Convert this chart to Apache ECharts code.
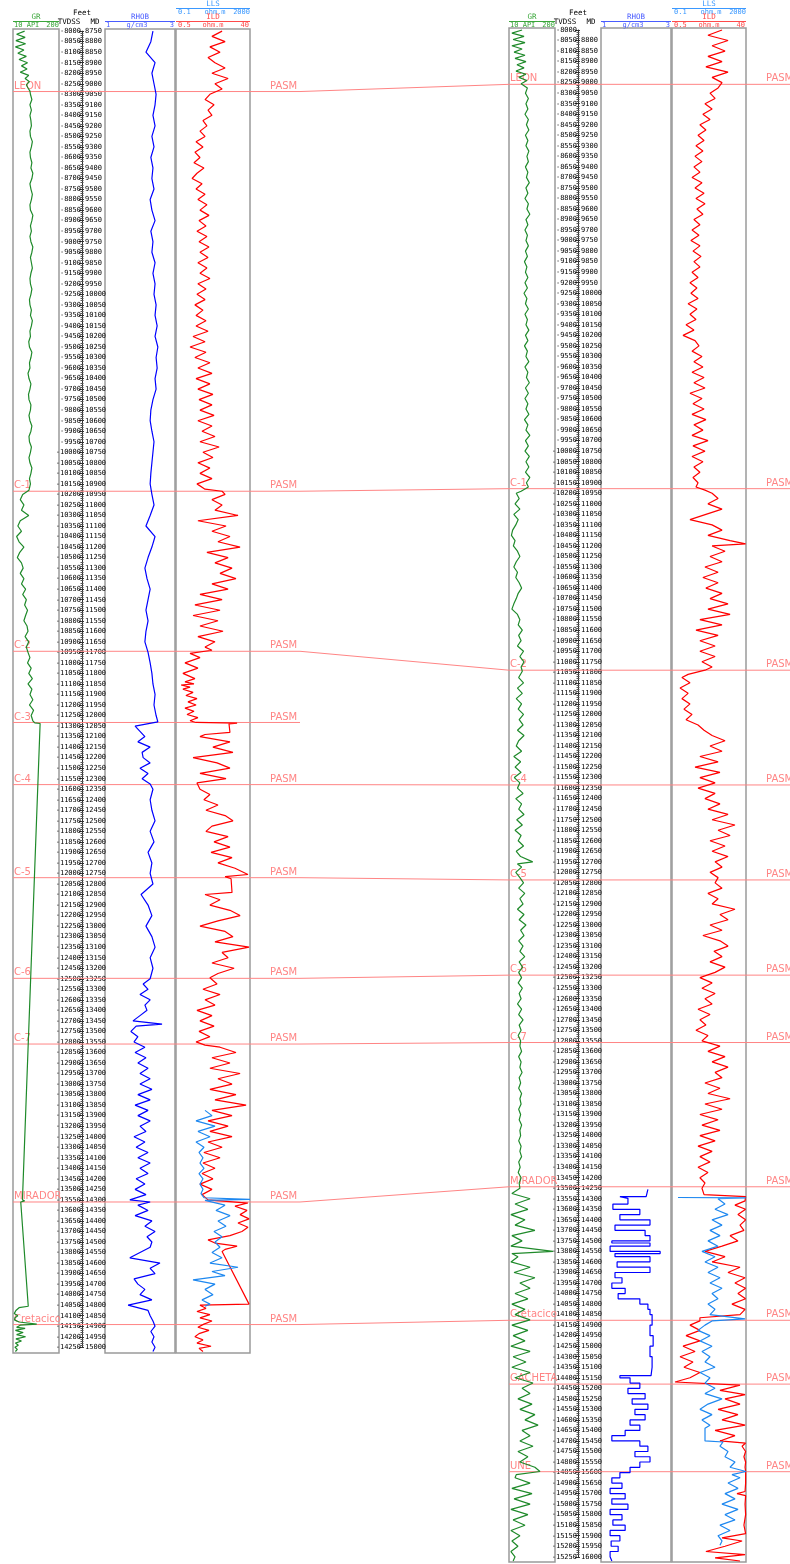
<!DOCTYPE html>
<html><head><meta charset="utf-8">
<script src="https://cdn.jsdelivr.net/npm/echarts@6.0.0/dist/echarts.min.js"></script>
<style>html,body{margin:0;padding:0;background:#fff}#c{width:790px;height:1564px}</style>
</head><body><div id="c"></div>
<script>
// ---------------- DATA (depth TVDSS ft, value) ----------------
const gr1 = [[8000,58],[8015,25],[8030,60],[8045,22],[8060,62],[8075,20],[8090,55],[8105,30],[8120,65],[8135,35],[8150,70],[8165,45],[8180,68],[8195,40],[8210,75],[8225,60],[8240,78],[8255,65],[8270,72],[8285,80],
[8300,82],[8325,88],[8350,80],[8375,86],[8400,80],[8425,84],[8450,86],[8475,80],[8500,82],[8525,90],[8550,86],[8575,80],[8600,82],[8625,88],[8650,84],[8675,92],[8700,88],[8725,80],[8750,84],[8775,90],[8800,86],[8825,80],[8850,82],[8875,92],[8900,88],[8925,82],[8950,86],[8975,80],[9000,84],[9025,92],[9050,88],[9075,82],[9100,86],[9125,90],[9150,84],[9175,80],[9200,82],[9225,88],[9250,84],[9275,78],[9300,80],[9325,86],[9350,82],[9375,90],[9400,86],[9425,80],[9450,82],[9475,75],[9500,78],[9525,88],[9550,84],[9575,78],[9600,80],[9625,72],[9650,76],[9675,84],[9700,80],[9725,74],[9750,76],[9775,84],[9800,82],[9825,76],[9850,80],[9875,88],[9900,84],[9925,76],[9950,78],[9975,86],[10000,82],[10025,76],[10050,80],[10075,88],[10100,84],[10125,78],[10150,82],[10180,76],
[10200,50],[10225,40],[10250,55],[10275,45],[10300,75],[10325,40],[10350,30],[10375,45],[10400,25],[10425,35],[10450,55],[10475,38],[10500,28],[10525,45],[10550,52],[10575,40],[10600,55],[10625,45],[10650,62],[10675,50],[10700,65],[10725,58],[10750,70],[10775,62],[10800,55],[10825,68],[10850,72],[10875,60],[10900,75],[10925,65],[10950,72],[10975,80],[11000,70],[11025,85],[11050,75],[11075,90],[11100,72],[11125,88],[11150,80],[11175,92],[11200,78],[11225,95],[11250,85],[11275,92],[11285,100],[11288,122],[13550,49],[13555,58],[13560,42],[13565,50],[14055,73],[14062,35],[14075,22],[14090,15],[14100,30],[14110,18],[14120,16],[14130,35],[14140,108],[14145,40],[14155,25],[14160,60],[14170,20],[14180,52],[14190,25],[14200,62],[14210,22],[14220,45],[14230,20],[14240,32],[14250,18],[14260,28],[14270,20]];

const rhob1 = [[8000,2.37],[8050,2.31],[8100,2.17],[8150,2.43],[8200,2.34],[8250,2.40],[8300,2.46],[8350,2.43],[8400,2.37],[8450,2.43],[8500,2.34],[8550,2.40],[8600,2.31],[8650,2.37],[8700,2.34],[8750,2.40],[8800,2.29],[8850,2.34],[8900,2.43],[8950,2.31],[9000,2.37],[9050,2.34],[9100,2.43],[9150,2.37],[9200,2.43],[9250,2.40],[9300,2.46],[9350,2.43],[9400,2.49],[9450,2.43],[9500,2.51],[9550,2.46],[9600,2.49],[9650,2.43],[9700,2.46],[9750,2.37],[9800,2.31],[9850,2.29],[9900,2.34],[9950,2.40],[10000,2.37],[10050,2.34],[10100,2.31],[10150,2.29],[10200,2.34],[10250,2.40],[10300,2.29],[10350,2.17],[10400,2.43],[10450,2.34],[10500,2.23],[10550,2.14],[10600,2.20],[10650,2.29],[10700,2.23],[10750,2.17],[10800,2.23],[10850,2.17],[10900,2.14],[10950,2.23],[11000,2.29],[11050,2.34],[11100,2.37],[11150,2.43],[11200,2.40],[11250,2.46],[11280,2.51],[11300,1.86],[11325,2.00],[11350,2.14],[11375,1.94],[11400,2.29],[11425,2.06],[11450,2.09],[11475,2.29],[11500,2.00],[11525,2.23],[11550,2.06],[11575,2.29],[11600,2.37],[11650,2.29],[11700,2.34],[11750,2.43],[11800,2.29],[11850,2.40],[11900,2.23],[11950,2.34],[12000,2.29],[12050,2.37],[12100,2.03],[12150,2.23],[12200,2.34],[12250,2.17],[12300,2.34],[12350,2.43],[12400,2.29],[12450,2.37],[12500,2.29],[12525,2.09],[12550,2.23],[12575,2.00],[12600,2.29],[12625,2.14],[12650,2.20],[12675,2.00],[12700,1.80],[12715,2.63],[12725,1.89],[12750,1.74],[12775,1.94],[12800,1.83],[12825,2.14],[12850,1.86],[12875,2.17],[12900,1.94],[12925,2.23],[12950,2.00],[12975,2.29],[13000,2.00],[13025,2.34],[13050,1.94],[13075,2.29],[13100,1.86],[13125,2.23],[13150,1.94],[13175,2.29],[13200,2.00],[13225,2.17],[13250,1.83],[13275,2.14],[13300,1.89],[13325,2.23],[13350,1.94],[13375,2.29],[13400,2.00],[13425,2.23],[13450,1.89],[13475,2.14],[13500,1.86],[13525,2.17],[13550,1.71],[13560,2.29],[13575,1.94],[13600,2.23],[13625,1.86],[13650,2.34],[13675,2.14],[13700,2.43],[13725,2.20],[13750,2.34],[13775,2.29],[13800,2.00],[13825,1.71],[13850,2.57],[13875,2.29],[13900,2.43],[13925,1.83],[13950,1.94],[13975,2.14],[14000,2.00],[14025,2.34],[14050,1.66],[14075,2.23],[14100,2.29],[14125,2.37],[14150,2.43],[14175,2.31],[14200,2.40],[14225,2.34],[14250,2.43],[14270,2.37]];

const ild1 = [[8000,25.1],[8025,19.7],[8050,26.7],[8075,18.6],[8100,24.0],[8125,17.6],[8150,21.3],[8175,26.7],[8200,19.7],[8225,28.3],[8250,21.3],[8275,25.1],[8300,18.6],[8325,16.0],[8350,20.8],[8375,17.6],[8400,19.7],[8425,14.9],[8450,17.0],[8475,13.3],
[8500,16.0],[8525,11.2],[8550,14.9],[8575,10.6],[8600,13.3],[8625,10.1],[8650,15.4],[8675,11.7],[8700,9.1],[8725,14.4],[8750,11.2],[8775,16.0],[8800,12.2],[8825,17.0],[8850,13.3],[8875,18.1],[8900,12.8],[8925,16.5],[8950,11.7],[8975,17.0],[9000,12.8],[9025,18.1],[9050,13.3],[9075,17.6],[9100,12.2],[9125,17.0],[9150,13.3],[9175,18.6],[9200,12.2],[9225,16.5],[9250,11.7],[9275,16.0],[9300,10.6],[9325,14.9],[9350,11.2],[9375,16.5],
[9400,11.2],[9425,17.6],[9450,9.6],[9475,16.0],[9500,8.0],[9525,16.5],[9550,10.6],[9575,18.6],[9600,12.2],[9625,19.7],[9650,11.2],[9675,18.6],[9700,12.2],[9725,20.2],[9750,12.8],[9775,19.7],[9800,13.3],[9825,20.8],[9850,12.2],[9875,19.7],[9900,14.4],[9925,21.3],[9950,13.3],[9975,23.5],[10000,14.9],[10025,20.2],[10050,12.2],[10075,18.6],[10100,13.3],[10125,19.7],[10150,11.7],[10175,16.0],[10185,25.1],
[10200,26.7],[10225,19.7],[10250,25.1],[10275,21.3],[10300,33.6],[10325,12.2],[10350,27.2],[10375,19.7],[10400,29.3],[10425,22.9],[10450,34.7],[10475,17.0],[10500,28.3],[10525,21.3],[10550,30.4],[10575,24.0],[10600,32.5],[10625,19.7],[10650,28.3],[10675,13.3],[10700,25.1],[10725,10.6],[10750,24.0],[10775,9.6],[10800,22.9],[10825,13.3],[10850,25.6],[10875,12.2],[10900,21.3],[10925,16.0],[10940,19.7],
[10955,8.0],[10975,13.3],[11000,5.3],[11025,12.2],[11050,4.2],[11075,10.6],[11090,5.3],[11100,10.1],[11105,3.2],[11115,8.0],[11125,4.2],[11140,9.6],[11155,5.8],[11170,11.7],[11185,6.9],[11200,11.2],[11215,5.3],[11230,10.1],[11245,6.4],[11260,12.2],[11275,8.0],[11283,11.2],[11286,33.1],[11290,28.8],[11330,29.3],[11340,16.0],
[11350,13.3],[11375,29.3],[11400,20.2],[11425,30.9],[11450,9.6],[11475,22.4],[11500,29.3],[11525,13.3],[11550,27.2],[11570,11.7],
[11600,13.3],[11625,18.6],[11650,15.4],[11675,22.9],[11700,16.5],[11725,26.7],[11750,30.9],[11775,19.7],[11800,16.5],[11825,28.3],[11850,20.8],[11875,29.3],[11900,19.2],[11925,30.4],[11950,22.9],[11975,32.0],[12005,38.9],[12015,26.7],
[12025,29.9],[12090,30.4],[12100,16.0],[12125,24.0],[12150,18.6],[12175,29.3],[12200,34.7],[12225,22.9],[12250,13.3],[12275,26.7],[12300,30.9],[12325,21.3],[12350,39.5],[12375,25.1],[12400,28.3],[12425,19.7],[12450,31.5],[12475,22.9],[12495,18.6],
[12525,22.4],[12550,14.9],[12575,24.0],[12600,16.0],[12625,21.3],[12650,11.7],[12675,19.7],[12700,13.3],[12725,20.8],[12750,12.8],[12775,18.6],[12800,11.2],[12815,16.0],
[12825,24.0],[12850,32.5],[12875,19.7],[12900,29.3],[12925,18.6],[12950,34.7],[12975,22.9],[13000,30.4],[13025,18.6],[13050,32.5],[13075,21.3],[13100,37.9],[13125,19.7],[13150,30.4],[13175,17.6],[13200,28.3],[13225,18.6],[13250,30.4],[13275,17.6],[13300,25.1],[13325,15.4],[13350,24.0],[13375,14.9],[13400,21.3],[13425,14.4],[13450,20.2],[13475,13.3],[13500,19.7],[13525,14.4],[13550,17.6],
[13565,38.9],[13580,32.0],[13600,38.4],[13620,34.7],[13640,39.5],[13660,33.6],[13680,38.9],[13700,35.7],[13720,29.3],[13740,17.6],[13755,21.3],[13770,33.1],[13785,26.7],[13795,25.1],[14045,39.5],[14050,13.3],[14065,16.5],[14080,11.7],[14095,18.6],[14110,13.3],[14125,19.7],[14140,15.4],[14155,12.2],[14170,18.1],[14185,12.8],[14200,10.6],[14215,14.9],[14230,11.7],[14245,19.2],[14255,12.8],[14270,14.9]];

const lls1 = [[13125,784],[13150,973],[13175,541],[13200,1054],[13225,595],[13250,919],[13275,541],[13300,757],[13325,622],[13350,730],[13375,649],[13400,757],[13425,622],[13450,730],[13475,649],[13500,730],[13520,676],[13540,757],[13548,2000],[13552,784],[13575,1324],[13600,1081],[13625,1460],[13650,1135],[13675,1351],[13700,1027],[13725,1243],[13750,1054],[13775,1189],[13800,973],[13825,1243],[13850,919],[13870,1676],[13890,973],[13910,1324],[13930,460],[13950,1054],[13975,784],[14000,1000],[14025,703],[14045,919],[14055,784]];

const gr2 = [[8000,64],[8015,22],[8030,72],[8045,27],[8060,76],[8075,22],[8090,64],[8105,31],[8120,76],[8135,35],[8150,80],[8165,43],[8180,72],[8195,39],[8210,80],[8225,51],[8240,84],[8255,60],
[8275,86],[8300,78],[8325,90],[8350,80],[8375,88],[8400,76],[8425,90],[8450,82],[8475,92],[8500,78],[8525,88],[8550,80],[8575,92],[8600,84],[8625,90],[8650,78],[8675,88],[8700,82],[8725,94],[8750,80],[8775,88],[8800,76],[8825,90],[8850,84],[8875,96],[8900,80],[8925,88],[8950,76],[8975,86],[9000,80],[9025,90],[9050,78],[9075,86],[9100,74],[9125,84],[9150,78],[9175,88],[9200,76],[9225,86],[9250,72],[9275,84],[9300,78],[9325,90],[9350,76],[9375,86],[9400,80],[9425,92],[9450,78],[9475,88],[9500,74],[9525,86],[9550,80],[9575,92],[9600,76],[9625,88],[9650,82],[9675,94],[9700,78],[9725,90],[9750,76],[9775,88],[9800,80],[9825,92],[9850,74],[9875,88],[9900,80],[9925,96],[9950,78],[9975,90],[10000,76],[10025,94],[10050,80],[10075,92],[10100,78],[10125,96],[10150,82],[10170,90],
[10190,60],[10200,40],[10225,52],[10250,35],[10275,55],[10300,30],[10325,48],[10350,38],[10375,25],[10400,20],[10425,35],[10450,28],[10475,45],[10500,55],[10525,40],[10550,30],[10575,45],[10600,38],[10625,52],[10650,62],[10675,48],[10700,40],[10725,30],[10750,22],[10775,45],[10800,55],[10825,48],[10850,65],[10875,50],[10900,60],[10925,45],[10950,70],[10975,55],[11000,72],[11025,60],[11045,65],
[11075,50],[11100,70],[11125,45],[11150,65],[11175,40],[11200,62],[11225,48],[11250,70],[11275,52],[11300,68],[11325,45],[11350,72],[11375,50],[11400,40],[11425,62],[11450,30],[11475,58],[11500,35],[11525,60],[11550,32],[11575,55],
[11600,45],[11625,68],[11650,38],[11675,62],[11700,50],[11725,72],[11750,42],[11775,65],[11800,35],[11825,60],[11850,48],[11875,70],[11900,40],[11925,58],[11950,108],[11960,45],[11975,62],[12000,38],[12025,55],
[12050,70],[12075,50],[12100,75],[12125,55],[12150,68],[12175,45],[12200,72],[12225,52],[12250,80],[12275,58],[12300,72],[12325,50],[12350,68],[12375,55],[12400,75],[12425,52],[12450,66],[12475,50],
[12500,62],[12525,48],[12550,65],[12575,52],[12600,60],[12625,45],[12650,62],[12675,50],[12700,68],[12725,52],[12750,60],[12775,48],[12800,58],
[12825,55],[12850,62],[12875,50],[12900,60],[12925,55],[12950,64],[12975,52],[13000,58],[13025,50],[13050,62],[13075,55],[13100,60],[13125,50],[13150,58],[13175,52],[13200,62],[13225,55],[13250,58],[13275,50],[13300,60],[13325,55],[13350,62],[13375,50],[13400,56],[13425,48],[13450,60],[13475,52],
[13500,55],[13525,22],[13550,97],[13575,35],[13600,88],[13625,18],[13650,76],[13675,35],[13700,117],[13725,22],[13750,64],[13775,18],[13800,192],[13810,22],[13825,47],[13850,18],[13875,97],[13900,31],[13925,117],[13950,55],[13975,97],[14000,35],[14025,88],[14050,22],[14075,76],[14100,35],[14125,97],
[14150,22],[14175,88],[14200,27],[14225,76],[14250,18],[14275,97],[14300,27],[14325,80],[14350,22],[14375,97],[14400,35],[14425,109],
[14450,64],[14475,97],[14500,47],[14525,105],[14550,55],[14575,117],[14600,76],[14625,130],[14650,64],[14675,97],[14700,55],[14725,109],[14750,47],[14775,88],[14800,55],[14825,117],[14845,138],
[14860,40],[14875,35],[14900,97],[14925,22],[14950,105],[14975,31],[15000,97],[15025,18],[15050,88],[15075,27],[15100,76],[15125,18],[15150,55],[15175,22],[15200,47],[15225,18],[15250,35],[15270,27]];

const rhob2 = [[13505,2.34],[13540,2.29],[13548,1.54],[13575,1.77],[13600,1.34],[13625,2.11],[13650,1.54],[13675,2.40],[13700,1.40],[13725,2.26],[13750,2.40],[13760,1.31],[13775,2.40],[13800,1.26],[13810,2.69],[13825,1.40],[13850,2.40],[13875,1.46],[13900,2.40],[13925,1.40],[13950,1.60],[13975,1.31],[14000,1.69],[14025,1.49],[14050,2.11],[14075,2.34],[14100,2.40],[14150,2.46],[14200,2.40],[14250,2.49],[14300,2.40],[14350,2.46],[14390,2.43],[14400,1.54],[14425,1.83],[14450,2.11],[14475,1.77],[14500,2.26],[14525,1.89],[14550,2.34],[14575,1.97],[14600,2.26],[14625,1.83],[14650,2.11],[14675,1.69],[14700,1.31],[14725,2.11],[14750,2.34],[14775,1.97],[14800,2.40],[14825,2.11],[14850,1.83],[14875,1.54],[14900,1.31],[14925,1.60],[14950,1.26],[14975,1.69],[15000,1.31],[15025,1.77],[15050,1.26],[15075,1.60],[15100,1.34],[15125,1.69],[15150,1.26],[15175,1.54],[15200,1.29],[15225,1.49],[15250,1.26],[15270,1.31]];

const ild2 = [[8000,27.2],[8025,19.7],[8050,30.4],[8075,21.9],[8100,28.8],[8125,19.7],[8150,27.2],[8175,18.6],[8200,30.4],[8225,21.9],[8250,27.2],[8275,25.1],[8300,20.8],[8325,23.5],[8350,18.1],[8375,21.9],[8400,17.0],[8425,20.8],[8450,15.4],[8475,18.6],[8500,14.4],[8525,17.6],[8550,13.3],[8575,17.0],[8600,12.8],[8625,16.5],[8650,12.2],[8675,15.4],[8700,11.2],[8725,16.5],[8750,12.8],[8775,17.6],[8800,13.3],[8825,18.1],[8850,13.8],[8875,17.0],[8900,12.2],[8925,15.4],[8950,11.2],[8975,14.9],[9000,10.6],[9025,15.4],[9050,11.7],[9075,16.0],[9100,12.2],[9125,15.4],[9150,11.2],[9175,14.4],[9200,10.1],[9225,13.8],[9250,10.6],[9275,14.4],[9300,9.1],[9325,13.8],[9350,10.1],[9375,13.3],[9400,8.0],[9425,12.2],[9450,6.4],[9475,12.8],[9500,14.9],[9525,11.2],[9550,16.5],[9575,12.2],[9600,17.0],[9625,11.2],[9650,17.6],[9675,12.2],[9700,18.1],[9725,10.1],[9750,16.5],[9775,11.7],[9800,17.6],[9825,11.2],[9850,18.6],[9875,12.2],[9900,17.0],[9925,11.2],[9950,19.7],[9975,11.7],[10000,18.1],[10025,11.2],[10050,17.0],[10075,12.2],[10100,15.4],[10125,11.7],[10150,14.4],[10170,13.3],
[10185,18.1],[10200,21.9],[10225,25.1],[10250,19.7],[10275,27.2],[10300,18.6],[10325,10.1],[10350,21.9],[10375,27.2],[10400,19.7],[10425,31.5],[10440,39.8],[10450,21.9],[10475,28.8],[10500,20.8],[10525,27.2],[10550,18.1],[10575,25.1],[10600,17.0],[10625,25.1],[10650,18.6],[10675,27.2],[10700,20.8],[10725,30.4],[10750,19.7],[10775,31.5],[10800,15.4],[10825,27.2],[10850,13.3],[10875,25.1],[10900,15.4],[10925,23.5],[10950,15.4],[10975,23.5],[11000,16.5],[11025,21.9],[11040,18.1],
[11060,9.1],[11075,5.8],[11100,10.1],[11125,4.8],[11150,9.1],[11175,5.8],[11200,10.1],[11225,6.9],[11250,11.2],[11275,8.0],[11300,14.4],[11325,17.6],[11350,21.9],[11375,28.8],[11400,20.8],[11425,27.2],[11450,15.4],[11475,25.1],[11500,12.8],[11525,26.1],[11550,15.4],[11575,23.5],
[11600,14.4],[11625,23.5],[11650,18.1],[11675,26.1],[11700,19.7],[11725,30.4],[11750,21.9],[11775,34.1],[11800,25.1],[11825,31.5],[11850,20.8],[11875,28.8],[11900,21.9],[11925,30.4],[11950,23.5],[11975,27.2],[12000,20.8],[12025,25.1],
[12050,23.5],[12075,27.2],[12100,19.7],[12125,25.1],[12150,21.9],[12175,34.1],[12200,26.1],[12225,30.4],[12250,20.8],[12275,27.2],[12300,17.0],[12325,26.1],[12350,30.4],[12375,22.9],[12400,27.2],[12425,20.8],[12450,28.8],[12475,23.5],
[12500,15.4],[12525,21.9],[12550,16.5],[12575,23.5],[12600,18.1],[12625,21.9],[12650,14.4],[12675,20.8],[12700,15.4],[12725,18.6],[12750,13.3],[12775,19.7],[12800,16.5],
[12825,26.1],[12850,19.7],[12875,28.8],[12900,21.9],[12925,30.4],[12950,23.5],[12975,27.2],[13000,18.1],[13025,26.1],[13050,19.7],[13075,31.5],[13100,18.1],[13125,27.2],[13150,15.4],[13175,25.1],[13200,16.5],[13225,26.1],[13250,15.4],[13275,23.5],[13300,14.4],[13325,21.9],[13350,15.4],[13375,20.8],[13400,14.4],[13425,19.7],[13450,15.4],[13475,18.1],[13500,16.5],[13530,17.6],[13540,39.8],
[13560,39.5],[13580,34.1],[13600,39.8],[13625,35.7],[13650,39.8],[13675,36.8],[13700,38.9],[13725,31.5],[13750,35.7],[13775,27.2],[13800,18.1],[13825,28.8],[13850,21.9],[13875,36.8],[13900,30.4],[13925,39.5],[13950,34.1],[13975,39.8],[14000,35.7],[14025,39.8],[14050,32.5],[14075,39.5],[14100,36.8],[14115,15.4],
[14130,15.4],[14150,10.1],[14175,15.4],[14200,8.0],[14225,15.4],[14250,6.4],[14275,12.8],[14300,4.8],[14325,11.7],[14350,6.9],[14375,15.4],[14400,10.1],[14420,2.1],
[14435,36.8],[14460,26.1],[14480,39.5],[14500,28.8],[14525,36.8],[14550,25.1],[14575,35.7],[14600,27.2],[14625,39.5],[14650,23.5],[14675,34.1],[14700,26.1],[14710,39.8],[14725,37.9],[14750,39.8],[14775,38.9],[14800,39.8],[14825,39.5],[14845,39.8],
[14900,39.8],[14940,39.5],[14950,35.2],[14960,39.8],[15000,39.5],[15050,39.8],[15100,38.9],[15140,39.8],[15160,27.2],[15175,37.9],[15200,28.8],[15225,18.6],[15240,39.5],[15255,23.5],[15270,36.8]];

const lls2 = [[13544,162],[13546,2000],[13550,1243],[13575,1432],[13600,1162],[13625,1514],[13650,1081],[13675,1351],[13700,1027],[13725,1297],[13750,973],[13775,1243],[13800,811],[13825,1162],[13850,892],[13875,1243],[13900,973],[13925,1297],[13950,1027],[13975,1351],[14000,1081],[14025,1243],[14050,973],[14075,1162],[14100,1027],[14120,1973],[14130,1081],
[14150,892],[14175,703],[14200,1027],[14225,757],[14250,1081],[14275,811],[14300,1027],[14325,892],[14350,1162],[14375,757],[14400,1027],[14425,892],
[14450,1162],[14475,892],[14500,1351],[14525,973],[14550,757],[14575,1081],[14600,811],[14625,1027],[14640,892],[14700,892],[14705,1378],[14725,1297],[14750,1514],[14775,1432],[14800,1703],[14825,1568],[14845,2000],
[14860,1622],[14875,1838],[14900,1514],[14925,1784],[14950,1432],[14975,1703],[15000,1351],[15025,1784],[15050,1432],[15075,1703],[15100,1297],[15125,1568],[15150,1243],[15175,1351],[15195,1297]];

// formation tops (TVDSS ft)
const topNames1 = ['LEON','C-1','C-2','C-3','C-4','C-5','C-6','C-7','MIRADOR','Cretacico'];
const topDepth1 = [8287,10185,10945,11283,11578,12020,12498,12810,13560,14142];
const topNames2 = ['LEON','C-1','C-2','C-4','C-5','C-6','C-7','MIRADOR','Cretacico','GACHETA','UNE'];
const topDepth2 = [8258,10178,11040,11585,12036,12488,12808,13493,14127,14430,14846];
const topSource = 'PASM';

// ---------------- LAYOUT ----------------
const SCALE = 0.21059; // px per ft
const C_GR = '#1f8a2a', C_RHOB = '#0000ff', C_ILD = '#ff0000', C_LLS = '#1e88f0';
const H_GR = '#3aa63a', H_RHOB = '#4a5cff', H_ILD = '#ff4a4a', H_LLS = '#3a98ff';
const TOP_C = '#ff8585';
const MONO = '"DejaVu Sans Mono", monospace';

const grids = [], xAxes = [], yAxes = [];
function addWell(ox, top, height, d0, tvdMax, hideFirstMd) {
  const dMax = d0 + height / SCALE;
  const dTop = top + (8000 - d0) * SCALE;
  const dH = (tvdMax - 8000) * SCALE;
  const g = grids.length;
  const border = {show: true, borderColor: '#9a9a9a', borderWidth: 1.5, backgroundColor: 'transparent', outerBoundsMode: 'none'};
  grids.push(Object.assign({left: ox + 13, top, width: 46, height}, border));
  grids.push({left: ox + 82, top: dTop, width: 23, height: dH, show: false, outerBoundsMode: 'none'});
  grids.push(Object.assign({left: ox + 105, top, width: 70, height}, border));
  grids.push(Object.assign({left: ox + 176, top, width: 74, height}, border));
  const hx = {type: 'value', show: false};
  xAxes.push(Object.assign({gridIndex: g, min: 10, max: 200}, hx));
  xAxes.push(Object.assign({gridIndex: g + 1, min: 0, max: 1}, hx));
  xAxes.push(Object.assign({gridIndex: g + 2, min: 1, max: 3}, hx));
  xAxes.push(Object.assign({gridIndex: g + 3, min: 0.5, max: 40}, hx));
  xAxes.push(Object.assign({gridIndex: g + 3, min: 0.1, max: 2000}, hx));
  const hy = {type: 'value', show: false, inverse: true, min: d0, max: dMax};
  const lab = {fontSize: 7, fontFamily: MONO, color: '#000'};
  yAxes.push(Object.assign({gridIndex: g}, hy));
  yAxes.push({gridIndex: g + 1, type: 'value', inverse: true, min: 8000, max: tvdMax, interval: 50, position: 'left',
    axisLine: {show: true, onZero: false, lineStyle: {color: '#333', width: 1}},
    axisTick: {show: true, length: 3, lineStyle: {color: '#333'}},
    minorTick: {show: true, splitNumber: 5, length: 1.5, lineStyle: {color: '#555'}},
    splitLine: {show: false}, minorSplitLine: {show: false},
    axisLabel: Object.assign({margin: 1, formatter: v => '-' + v}, lab)});
  yAxes.push({gridIndex: g + 1, type: 'value', inverse: true, min: 8750, max: tvdMax + 750, interval: 50, position: 'left',
    axisLine: {show: false, onZero: false},
    axisTick: {show: true, inside: true, length: 2, lineStyle: {color: '#333'}},
    minorTick: {show: true, splitNumber: 5, length: 1.5, lineStyle: {color: '#555'}},
    splitLine: {show: false}, minorSplitLine: {show: false},
    axisLabel: Object.assign({inside: true, margin: 3, showMinLabel: !hideFirstMd, formatter: v => String(v)}, lab)});
  yAxes.push(Object.assign({gridIndex: g + 2}, hy));
  yAxes.push(Object.assign({gridIndex: g + 3}, hy));
}
addWell(0, 29, 1324, 7990, 14250, false);
addWell(496, 28, 1534, 7990.5, 15250, true);

function curve(data, xi, yi, color, step) {
  const s = {type: 'line', data, xAxisIndex: xi, yAxisIndex: yi, encode: {x: 1, y: 0},
    showSymbol: false, symbol: 'none',
    lineStyle: {width: 1.2, color}, itemStyle: {color}, silent: true, z: 3, clip: true};
  if (step) s.step = step;
  return s;
}
const series = [
  curve(gr1, 0, 0, C_GR), curve(rhob1, 2, 3, C_RHOB), curve(ild1, 3, 4, C_ILD), curve(lls1, 4, 4, C_LLS),
  curve(gr2, 5, 5, C_GR), curve(rhob2, 7, 8, C_RHOB, 'end'), curve(ild2, 8, 9, C_ILD), curve(lls2, 9, 9, C_LLS)
];

const chart = echarts.init(document.getElementById('c'), null, {renderer: 'canvas', width: 790, height: 1564});
chart.setOption({animation: false, backgroundColor: '#fff', grid: grids, xAxis: xAxes, yAxis: yAxes, series});

// ---------------- headers & tops ----------------
function T(x, y, text, fill, align, size, family) {
  return {type: 'text', x, y, silent: true, z: 5,
    style: {text, fill, font: size + 'px ' + (family || MONO), align, textAlign: align, verticalAlign: 'middle', textVerticalAlign: 'middle'}};
}
function Ln(x1, x2, y, stroke) {
  return {type: 'line', silent: true, z: 5, shape: {x1, y1: y, x2, y2: y}, style: {stroke, lineWidth: 1}};
}
function header(ox) {
  return [
    T(ox + 36, 17, 'GR', H_GR, 'center', 7.5), Ln(ox + 13, ox + 59, 21.5, H_GR),
    T(ox + 14, 25.5, '10', H_GR, 'left', 7), T(ox + 33, 25.5, 'API', H_GR, 'center', 7), T(ox + 59, 25.5, '200', H_GR, 'right', 7),
    T(ox + 82, 13, 'Feet', '#000', 'center', 7.5), T(ox + 69, 22, 'TVDSS', '#000', 'center', 7.5), T(ox + 95, 22, 'MD', '#000', 'center', 7.5),
    T(ox + 140, 17, 'RHOB', H_RHOB, 'center', 7.5), Ln(ox + 105, ox + 175, 21.5, H_RHOB),
    T(ox + 106, 25.5, '1', H_RHOB, 'left', 7), T(ox + 137, 25.5, 'g/cm3', H_RHOB, 'center', 7), T(ox + 174, 25.5, '3', H_RHOB, 'right', 7),
    T(ox + 213, 4.5, 'LLS', H_LLS, 'center', 7.5), Ln(ox + 176, ox + 250, 8.5, H_LLS),
    T(ox + 178, 12, '0.1', H_LLS, 'left', 7), T(ox + 215, 12, 'ohm.m', H_LLS, 'center', 7), T(ox + 250, 12, '2000', H_LLS, 'right', 7),
    T(ox + 213, 17, 'ILD', H_ILD, 'center', 7.5), Ln(ox + 176, ox + 250, 21.5, H_ILD),
    T(ox + 178, 25.5, '0.5', H_ILD, 'left', 7), T(ox + 213, 25.5, 'ohm.m', H_ILD, 'center', 7), T(ox + 249, 25.5, '40', H_ILD, 'right', 7)
  ];
}
const gfx = header(0).concat(header(496));
const SANS = '"DejaVu Sans", sans-serif';
function topLabel(x, y, text) {
  return {type: 'text', x, y: y - 0.5, silent: true, z: 1,
    style: {text, fill: TOP_C, font: '10px ' + SANS, align: 'left', textAlign: 'left', verticalAlign: 'bottom', textVerticalAlign: 'bottom'}};
}
function poly(points) {
  return {type: 'polyline', silent: true, z: 1, shape: {points}, style: {stroke: TOP_C, fill: 'none', lineWidth: 1}};
}
const y1 = d => chart.convertToPixel({yAxisIndex: 4}, d);
const y2 = d => chart.convertToPixel({yAxisIndex: 9}, d);
topNames1.forEach((n, i) => {
  const a = y1(topDepth1[i]);
  const j = topNames2.indexOf(n);
  if (j >= 0) {
    const b = y2(topDepth2[j]);
    gfx.push(poly([[13, a], [300, a], [509, b], [790, b]]));
  } else {
    gfx.push(poly([[13, a], [300, a]]));
  }
  gfx.push(topLabel(14, a, n), topLabel(270, a, topSource));
});
topNames2.forEach((n, j) => {
  const b = y2(topDepth2[j]);
  if (topNames1.indexOf(n) < 0) gfx.push(poly([[509, b], [790, b]]));
  gfx.push(topLabel(510, b, n), topLabel(766, b, topSource));
});
chart.setOption({graphic: gfx});
</script></body></html>
